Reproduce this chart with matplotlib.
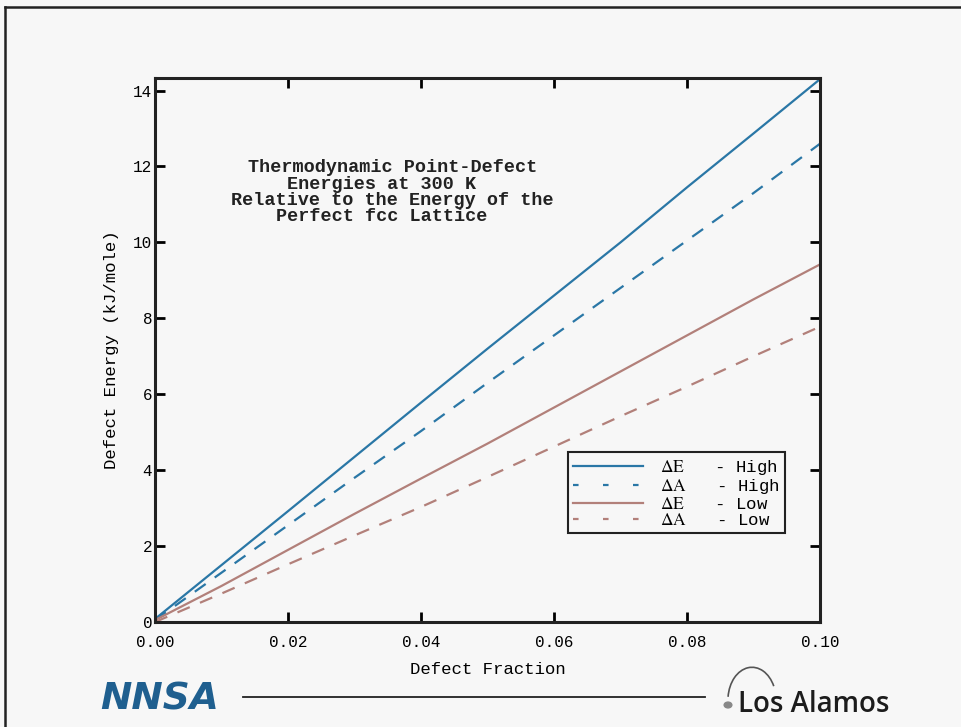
import numpy as np
import matplotlib.pyplot as plt
from matplotlib.lines import Line2D
from matplotlib.patches import Arc, Circle

plt.rcParams['mathtext.fontset'] = 'stix'
mono = 'Liberation Mono'

# values
frac = [0.0, 0.01, 0.02, 0.03, 0.04, 0.05, 0.06, 0.07, 0.08, 0.09, 0.10]
dE_high = [0.08, 1.5, 2.92, 4.35, 5.78, 7.2, 8.6, 10.0, 11.45, 12.87, 14.3]
dA_high = [0.05, 1.3, 2.55, 3.8, 5.03, 6.3, 7.55, 8.8, 10.05, 11.3, 12.6]
dE_low = [0.05, 0.95, 1.9, 2.85, 3.78, 4.7, 5.65, 6.6, 7.55, 8.5, 9.42]
dA_low = [0.0, 0.75, 1.52, 2.28, 3.03, 3.82, 4.62, 5.42, 6.2, 7.0, 7.78]

labels = [r'$\Delta\mathrm{E}$   - High', r'$\Delta\mathrm{A}$   - High',
          r'$\Delta\mathrm{E}$   - Low', r'$\Delta\mathrm{A}$   - Low']
xticks = [0.0, 0.02, 0.04, 0.06, 0.08, 0.10]
yticks = [0, 2, 4, 6, 8, 10, 12, 14]

blue = '#2a77a6'
brown = '#b2807a'
bg = '#f7f7f7'

fig = plt.figure(figsize=(9.61, 7.27), dpi=100, facecolor=bg)
ax = fig.add_axes([0.1613, 0.1444, 0.692, 0.7483], facecolor=bg)

ax.plot(frac, dE_high, color=blue, lw=1.6)
ax.plot(frac, dA_high, color=blue, lw=1.6, dashes=(6, 5))
ax.plot(frac, dE_low, color=brown, lw=1.6)
ax.plot(frac, dA_low, color=brown, lw=1.6, dashes=(6, 5))

ax.set_xlim(0, 0.10)
ax.set_ylim(0, 14.33)
ax.set_xticks(xticks)
ax.set_xticklabels([f'{v:.2f}' for v in xticks])
ax.set_yticks(yticks)
ax.tick_params(direction='in', length=7, width=2, top=True, right=True,
               labelsize=11.5)
ax.tick_params(axis='x', pad=9)
ax.tick_params(axis='y', pad=2)
for lab in ax.get_xticklabels() + ax.get_yticklabels():
    lab.set_family(mono)
for s in ax.spines.values():
    s.set_linewidth(2.2)
    s.set_color('#222222')

ax.set_xlabel('Defect Fraction', family=mono, fontsize=12.5, labelpad=9)
ax.set_ylabel('Defect Energy (kJ/mole)', family=mono, fontsize=12.5, labelpad=10)

ax.text(0.357, 0.79,
        'Thermodynamic Point-Defect\nEnergies at 300 K  \n'
        'Relative to the Energy of the\nPerfect fcc Lattice  ',
        transform=ax.transAxes, ha='center', va='center', multialignment='center',
        family=mono, fontweight='bold', fontsize=13.3, linespacing=0.95,
        color='#222222')

handles = [Line2D([], [], color=blue, lw=1.6),
           Line2D([], [], color=blue, lw=1.6, dashes=(2.5, 11)),
           Line2D([], [], color=brown, lw=1.6),
           Line2D([], [], color=brown, lw=1.6, dashes=(2.5, 11))]
leg = ax.legend(handles, labels, loc='lower right', bbox_to_anchor=(0.947, 0.164),
                borderaxespad=0, prop={'family': mono, 'size': 12.5},
                handlelength=4.0, labelspacing=0.0, borderpad=0.3,
                handletextpad=1.0, fancybox=False, framealpha=1, facecolor=bg,
                edgecolor='#222222')
leg.get_frame().set_linewidth(1.5)

# outer frame of the slide
fig.add_artist(Line2D([5 / 961, 5 / 961], [0, 1 - 7 / 727], color='#222222',
                      lw=1.8, transform=fig.transFigure))
fig.add_artist(Line2D([5 / 961, 1], [1 - 7 / 727, 1 - 7 / 727], color='#222222',
                      lw=1.8, transform=fig.transFigure))

# footer
fig.text(100 / 961, 1 - 699 / 727, 'NNSA', fontsize=27, fontweight='bold',
         style='italic', color='#1f5f8f', family='DejaVu Sans', va='center',
         ha='left')
fig.add_artist(Line2D([243 / 961, 705 / 961], [1 - 697 / 727, 1 - 697 / 727],
                      color='#222222', lw=1.3, transform=fig.transFigure))
fig.text(738 / 961, 1 - 704 / 727, 'Los Alamos', fontsize=20, color='#1c1c1c',
         family='Open Sans', fontweight='semibold', va='center', ha='left')
fig.add_artist(Circle((728 / 961, 1 - 705 / 727), 0.004, color='#888888',
                      transform=fig.transFigure))
fig.add_artist(Arc((752 / 961, 1 - 700 / 727), 0.05, 0.09, theta1=40, theta2=170,
                   color='#555555', lw=1.2, transform=fig.transFigure))

fig.savefig('out.png', dpi=100, facecolor=bg)
